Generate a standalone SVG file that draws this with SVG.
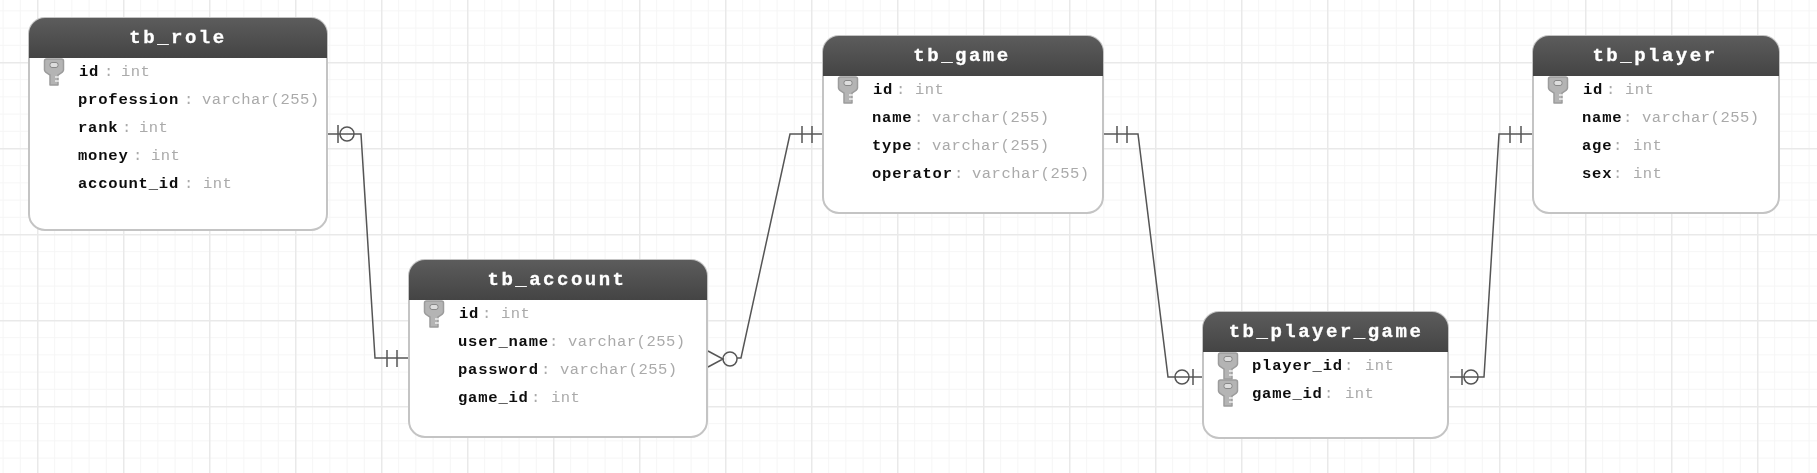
<svg xmlns="http://www.w3.org/2000/svg" xmlns:xlink="http://www.w3.org/1999/xlink" width="1817" height="473" viewBox="0 0 1817 473">
<style>
.box{fill:#fff;stroke:#c4c4c4;stroke-width:2}
.t{font-family:"Liberation Mono",monospace;font-size:19px;font-weight:700;fill:#fff;stroke:#fff;stroke-width:.3px;letter-spacing:2.500px;text-anchor:middle;filter:url(#soft)}
.n{font-family:"Liberation Mono",monospace;font-size:15.5px;font-weight:700;fill:#111;letter-spacing:.8px;filter:url(#soft)}
.y{font-family:"Liberation Mono",monospace;font-size:15.5px;fill:#aaa;letter-spacing:.5px;filter:url(#soft)}
.c{fill:none;stroke:#555;stroke-width:1.500}
.o{fill:none;stroke:#555;stroke-width:1.500}
</style>
<defs>
<filter id="soft" x="-5%" y="-20%" width="110%" height="140%"><feGaussianBlur stdDeviation="0.3"/></filter>
<pattern id="minor" patternUnits="userSpaceOnUse" x="37" y="-24" width="17.2" height="17.2"><path d="M0 0V17.2M0 0H17.2" fill="none" stroke="#f5f5f5" stroke-width="2"/></pattern>
<pattern id="major" patternUnits="userSpaceOnUse" x="37" y="-24" width="86" height="86"><path d="M0 0V86M0 0H86" fill="none" stroke="#e9e9e9" stroke-width="3"/></pattern>
<linearGradient id="hd" x1="0" y1="0" x2="0" y2="1"><stop offset="0" stop-color="#5c5c5c"/><stop offset="1" stop-color="#444"/></linearGradient>
<g id="key"><path d="M.5 2Q.5 0 2.500 0H17.500Q19.500 0 19.500 2V11Q19.500 13 14 16V26H6V16Q.5 13 .5 11Z" fill="#b4b4b4" stroke="#9c9c9c" stroke-width="1.500" stroke-linejoin="round"/><rect x="6" y="3.500" width="8" height="5" rx="2" fill="#ddd" stroke="#888"/><path d="M11 18h4M11 22h4" stroke="#eee" stroke-width="1.500"/></g>
</defs>
<rect width="1817" height="473" fill="#fff"/>
<rect width="1817" height="473" fill="url(#minor)"/>
<rect width="1817" height="473" fill="url(#major)"/>
<g id="connectors">
<path class="c" d="M328 134H361L375 358H408"/>
<path class="o" d="M338 125V143M387 350V367M397 350V367"/><circle class="o" cx="347" cy="134" r="7"/>
<path class="c" d="M737 358H741L790 134H823"/>
<path class="o" d="M708 351L723 359L708 367M802 126V143M812 126V143"/><circle class="o" cx="730" cy="359" r="7"/>
<path class="c" d="M1103 134H1138L1168 377H1203"/>
<path class="o" d="M1117 126V143M1127 126V143M1193 369V385"/><circle class="o" cx="1182" cy="377" r="7"/>
<path class="c" d="M1450 377H1484L1499 134H1532"/>
<path class="o" d="M1462 369V385M1510 126V143M1521 126V143"/><circle class="o" cx="1471" cy="377" r="7"/>
</g>
<g id="tb_role">
<rect class="box" x="29" y="18" width="298" height="212" rx="16"/>
<path d="M29 58V34A16 16 0 0 1 45 18H311A16 16 0 0 1 327 34V58Z" fill="url(#hd)"/>
<text class="t" x="178" y="43">tb_role</text>
<use xlink:href="#key" href="#key" x="44" y="59"/>
<text class="n" x="79" y="76">id</text><text class="y" x="104" y="76">:</text><text class="y" x="121" y="76">int</text>
<text class="n" x="78" y="104">profession</text><text class="y" x="184" y="104">:</text><text class="y" x="202" y="104">varchar(255)</text>
<text class="n" x="78" y="132">rank</text><text class="y" x="122" y="132">:</text><text class="y" x="139" y="132">int</text>
<text class="n" x="78" y="160">money</text><text class="y" x="133" y="160">:</text><text class="y" x="151" y="160">int</text>
<text class="n" x="78" y="188">account_id</text><text class="y" x="184" y="188">:</text><text class="y" x="203" y="188">int</text>
</g>
<g id="tb_account">
<rect class="box" x="409" y="260" width="298" height="177" rx="16"/>
<path d="M409 300V276A16 16 0 0 1 425 260H691A16 16 0 0 1 707 276V300Z" fill="url(#hd)"/>
<text class="t" x="557" y="285">tb_account</text>
<use xlink:href="#key" href="#key" x="424" y="301"/>
<text class="n" x="459" y="318">id</text><text class="y" x="482" y="318">:</text><text class="y" x="501" y="318">int</text>
<text class="n" x="458" y="346">user_name</text><text class="y" x="549" y="346">:</text><text class="y" x="568" y="346">varchar(255)</text>
<text class="n" x="458" y="374">password</text><text class="y" x="541" y="374">:</text><text class="y" x="560" y="374">varchar(255)</text>
<text class="n" x="458" y="402">game_id</text><text class="y" x="531" y="402">:</text><text class="y" x="551" y="402">int</text>
</g>
<g id="tb_game">
<rect class="box" x="823" y="36" width="280" height="177" rx="16"/>
<path d="M823 76V52A16 16 0 0 1 839 36H1087A16 16 0 0 1 1103 52V76Z" fill="url(#hd)"/>
<text class="t" x="962" y="61">tb_game</text>
<use xlink:href="#key" href="#key" x="838" y="77"/>
<text class="n" x="873" y="94">id</text><text class="y" x="896" y="94">:</text><text class="y" x="915" y="94">int</text>
<text class="n" x="872" y="122">name</text><text class="y" x="914" y="122">:</text><text class="y" x="932" y="122">varchar(255)</text>
<text class="n" x="872" y="150">type</text><text class="y" x="914" y="150">:</text><text class="y" x="932" y="150">varchar(255)</text>
<text class="n" x="872" y="178">operator</text><text class="y" x="954" y="178">:</text><text class="y" x="972" y="178">varchar(255)</text>
</g>
<g id="tb_player_game">
<rect class="box" x="1203" y="312" width="245" height="126" rx="16"/>
<path d="M1203 352V328A16 16 0 0 1 1219 312H1432A16 16 0 0 1 1448 328V352Z" fill="url(#hd)"/>
<text class="t" x="1326" y="337">tb_player_game</text>
<use xlink:href="#key" href="#key" x="1218" y="353"/>
<use xlink:href="#key" href="#key" x="1218" y="380"/>
<text class="n" x="1252" y="370">player_id</text><text class="y" x="1344" y="370">:</text><text class="y" x="1365" y="370">int</text>
<text class="n" x="1252" y="398">game_id</text><text class="y" x="1324" y="398">:</text><text class="y" x="1345" y="398">int</text>
</g>
<g id="tb_player">
<rect class="box" x="1533" y="36" width="246" height="177" rx="16"/>
<path d="M1533 76V52A16 16 0 0 1 1549 36H1763A16 16 0 0 1 1779 52V76Z" fill="url(#hd)"/>
<text class="t" x="1655" y="61">tb_player</text>
<use xlink:href="#key" href="#key" x="1548" y="77"/>
<text class="n" x="1583" y="94">id</text><text class="y" x="1606" y="94">:</text><text class="y" x="1625" y="94">int</text>
<text class="n" x="1582" y="122">name</text><text class="y" x="1623" y="122">:</text><text class="y" x="1642" y="122">varchar(255)</text>
<text class="n" x="1582" y="150">age</text><text class="y" x="1613" y="150">:</text><text class="y" x="1633" y="150">int</text>
<text class="n" x="1582" y="178">sex</text><text class="y" x="1613" y="178">:</text><text class="y" x="1633" y="178">int</text>
</g>
</svg>
